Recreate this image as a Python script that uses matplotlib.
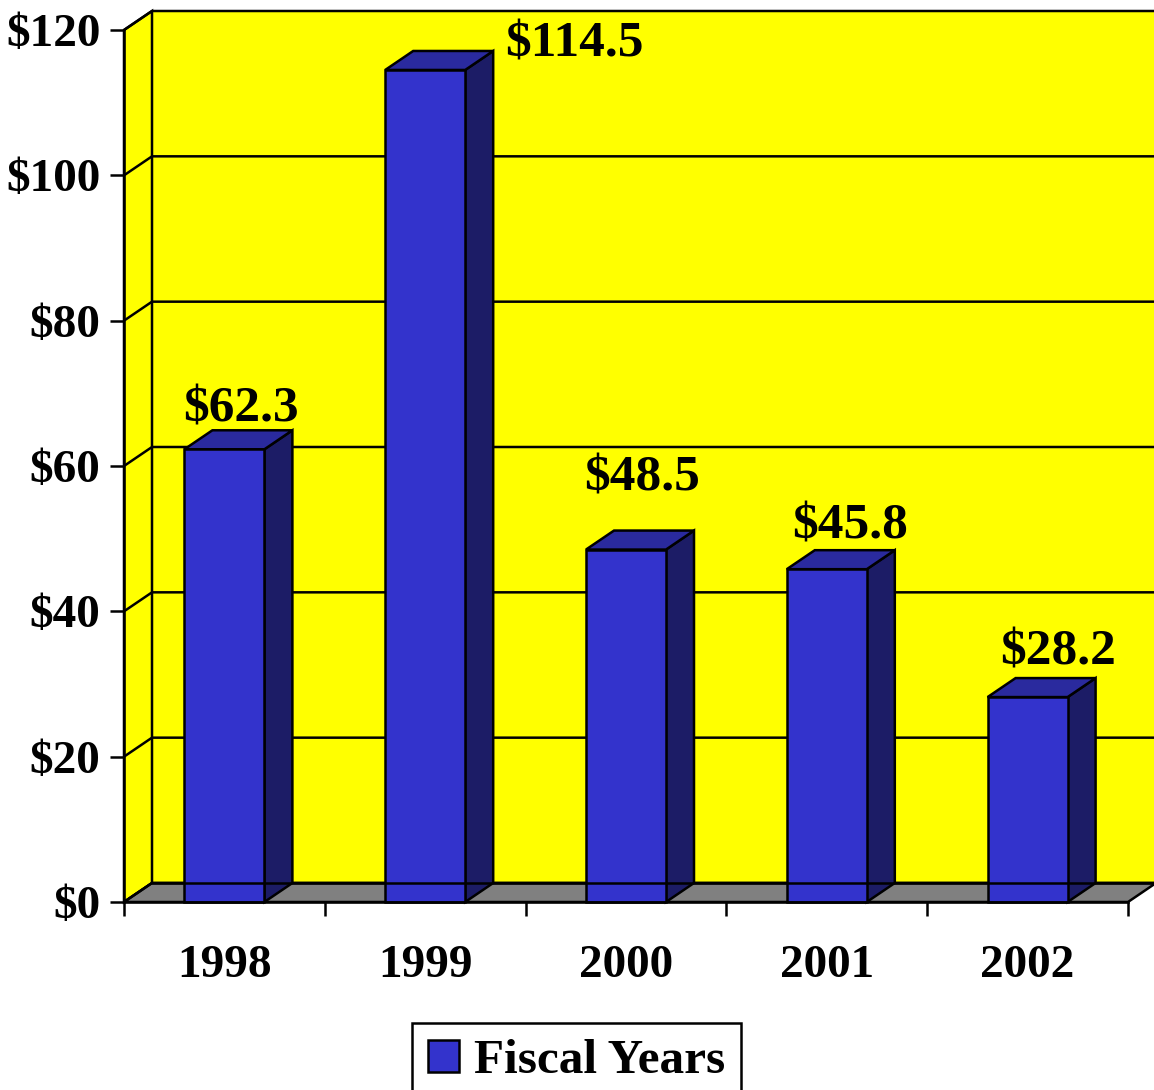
import matplotlib
matplotlib.use("Agg")
import matplotlib.pyplot as plt
from matplotlib.patches import Polygon, Rectangle

plt.rcParams.update(
    {
        "font.family": ["Liberation Serif", "DejaVu Serif"],
        "font.weight": "bold",
    }
)

years = ["1998", "1999", "2000", "2001", "2002"]
amounts = [62.3, 114.5, 48.5, 45.8, 28.2]
value_labels = ["$62.3", "$114.5", "$48.5", "$45.8", "$28.2"]
y_ticks = [0, 20, 40, 60, 80, 100, 120]
y_tick_labels = ["$0", "$20", "$40", "$60", "$80", "$100", "$120"]
legend_label = "Fiscal Years"

# label offsets from the bar's back-top centre, in pixels (x right, y up)
label_offsets = [(3, 9), (135, -6), (2, 40), (9, 12), (16, 14)]

FRONT = "#3333CC"
TOP = "#2A2A9E"
SIDE = "#1C1C66"
WALL = "#FFFF00"
FLOOR = "#808080"
LW = 1.8


def main():
    W, H = 1154, 1090
    fig = plt.figure(figsize=(W / 100, H / 100), dpi=100)
    left, right, bottom, top = 124, 1128, 902, 30
    ax = fig.add_axes([left / W, 1 - bottom / H, (right - left) / W, (bottom - top) / H])
    n = len(years)
    ymax = 120
    ax.set_xlim(0, n)
    ax.set_ylim(0, ymax)
    ax.patch.set_visible(False)

    px_x = n / (right - left)
    px_y = ymax / (bottom - top)
    dx = 28 * px_x
    dy = 19 * px_y
    bar_w = 80 * px_x

    # back wall, side wall and floor
    ax.add_patch(Rectangle((dx, dy), n + 1, ymax, facecolor=WALL, edgecolor="none",
                           zorder=0.5, clip_on=False))
    ax.add_patch(Polygon([(0, 0), (dx, dy), (dx, ymax + dy), (0, ymax)], closed=True,
                         facecolor=WALL, edgecolor="black", lw=LW, zorder=1.1, clip_on=False))
    ax.add_patch(Polygon([(0, 0), (n, 0), (n + dx, dy), (dx, dy)], closed=True,
                         facecolor=FLOOR, edgecolor="black", lw=LW, zorder=1.1, clip_on=False))
    for v in y_ticks:
        ax.plot([0, dx, n + dx + 1], [v, v + dy, v + dy], color="black", lw=LW,
                zorder=1.2, clip_on=False, solid_capstyle="butt")

    # bars
    for i, v in enumerate(amounts):
        x0 = i + 0.5 - bar_w / 2
        x1 = i + 0.5 + bar_w / 2
        ax.add_patch(Polygon([(x1, 0), (x1 + dx, dy), (x1 + dx, v + dy), (x1, v)], closed=True,
                             facecolor=SIDE, edgecolor="black", lw=LW, zorder=2, clip_on=False))
        ax.add_patch(Polygon([(x0, v), (x1, v), (x1 + dx, v + dy), (x0 + dx, v + dy)], closed=True,
                             facecolor=TOP, edgecolor="black", lw=LW, zorder=2, clip_on=False))
        ax.add_patch(Rectangle((x0, 0), bar_w, v, facecolor=FRONT, edgecolor="black",
                               lw=LW, zorder=2.1, clip_on=False))
        ox, oy = label_offsets[i]
        ax.annotate(value_labels[i], xy=(i + 0.5 + dx / 2, v + dy),
                    xytext=(ox * 0.72, oy * 0.72), textcoords="offset points",
                    ha="center", va="baseline", fontsize=37, fontweight="bold", zorder=4)
        ax.annotate(years[i], xy=(i + 0.5, 0), xytext=(0, -75 * 0.72),
                    textcoords="offset points", ha="center", va="baseline",
                    fontsize=34, fontweight="bold", annotation_clip=False)

    # floor back edge drawn over the bars, as in the original
    ax.plot([dx, n + dx + 1], [dy, dy], color="black", lw=LW, zorder=2.5, clip_on=False)

    # front axes
    for s in ["top", "right"]:
        ax.spines[s].set_visible(False)
    for s in ["left", "bottom"]:
        ax.spines[s].set_linewidth(LW)
        ax.spines[s].set_zorder(3)
    ax.set_yticks(y_ticks)
    ax.set_yticklabels(y_tick_labels, fontsize=34, fontweight="bold")
    ax.set_xticks(range(n + 1))
    ax.set_xticklabels([])
    ax.tick_params(axis="both", direction="out", length=10, width=LW)
    ax.tick_params(axis="y", pad=7)

    handle = Rectangle((0, 0), 1, 1, facecolor=FRONT, edgecolor="black", lw=LW)
    leg = fig.legend([handle], [legend_label], loc="upper left",
                     bbox_to_anchor=(412 / W, 1 - 1023 / H), borderaxespad=0,
                     prop={"family": "Liberation Serif", "weight": "bold", "size": 35.5},
                     handlelength=0.62, handleheight=0.64, handletextpad=0.3,
                     borderpad=0.33, fancybox=False, framealpha=1, edgecolor="black")
    leg.get_frame().set_linewidth(LW)

    fig.savefig("out.png", dpi=100, facecolor="white")
    plt.close(fig)


if __name__ == "__main__":
    main()
